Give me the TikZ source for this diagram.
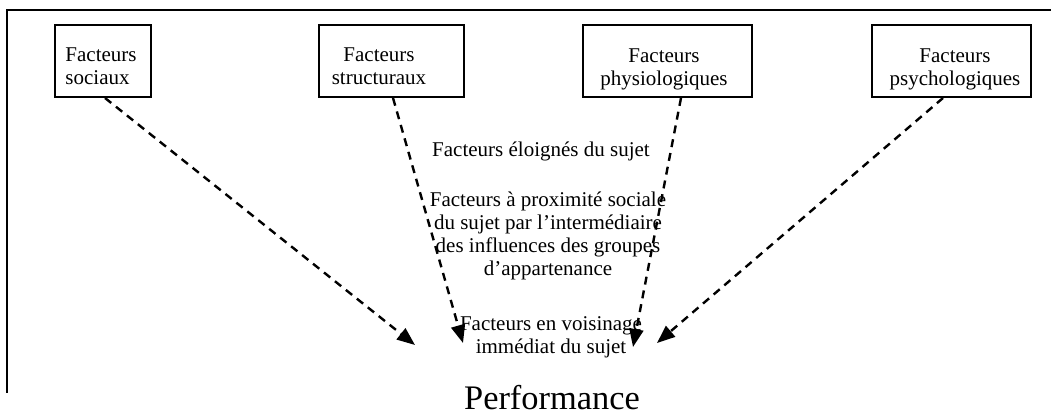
\documentclass[tikz,border=0pt]{standalone}
\usepackage{fontspec}
\setmainfont{Liberation Serif}
\usetikzlibrary{arrows.meta}

\begin{document}
\begin{tikzpicture}[x=0.5pt,y=-0.5pt,
  facteur/.style={draw,line width=1pt,minimum height=36pt,inner sep=0pt},
  boxtext/.style={inner sep=0pt,align=center,font=\fontsize{10.5}{11.5}\selectfont},
  niveau/.style={inner sep=0pt,align=center,font=\fontsize{10.5}{11.5}\selectfont},
  influence/.style={line width=1.2pt,dash pattern=on 4pt off 3pt,
    -{Triangle[length=9pt,width=7pt]}}]
\useasboundingbox (0,0) rectangle (1051,416);
% cadre
\draw[line width=1.3pt] (7,393) -- (7,10) -- (1051,10);
% les quatre facteurs
\node[facteur,minimum width=48pt] (sociaux) at (103,61) {};
\node[boxtext,align=left] (sociaux-t) at (101,66.5) {Facteurs\\sociaux};
\node[facteur,minimum width=72.5pt] (structuraux) at (391.5,61) {};
\node[boxtext] (structuraux-t) at (379,66.5) {Facteurs\\structuraux};
\node[facteur,minimum width=84.5pt] (physio) at (667.5,61) {};
\node[boxtext] (physio-t) at (664,68.9) {Facteurs\\physiologiques};
\node[facteur,minimum width=79.5pt] (psycho) at (951.5,61) {};
\node[boxtext] (psycho-t) at (955,68.9) {Facteurs\\psychologiques};
% niveaux
\node[niveau,anchor=base] (eloignes) at (541,157) {Facteurs éloignés du sujet};
\node[niveau] (proximite) at (548,235.6) {Facteurs à proximité sociale\\du sujet par l’intermédiaire\\des influences des groupes\\d’appartenance};
\node[niveau] (voisinage) at (551,337.7) {Facteurs en voisinage\\immédiat du sujet};
\node[anchor=base,inner sep=0pt,font=\fontsize{17.2}{20}\selectfont] (performance) at (552,410) {Performance};
% fleches
\coordinate (p1) at (415,345);
\coordinate (p2) at (463,343);
\coordinate (p3) at (633,347);
\coordinate (p4) at (657,343);
\draw[influence] ([xshift=1pt]sociaux.south) -- (p1);
\draw[influence] ([xshift=0.75pt]structuraux.south) -- (p2);
\draw[influence] ([xshift=6.75pt]physio.south) -- (p3);
\draw[influence] ([xshift=-4.25pt]psycho.south) -- (p4);
\end{tikzpicture}
\end{document}
